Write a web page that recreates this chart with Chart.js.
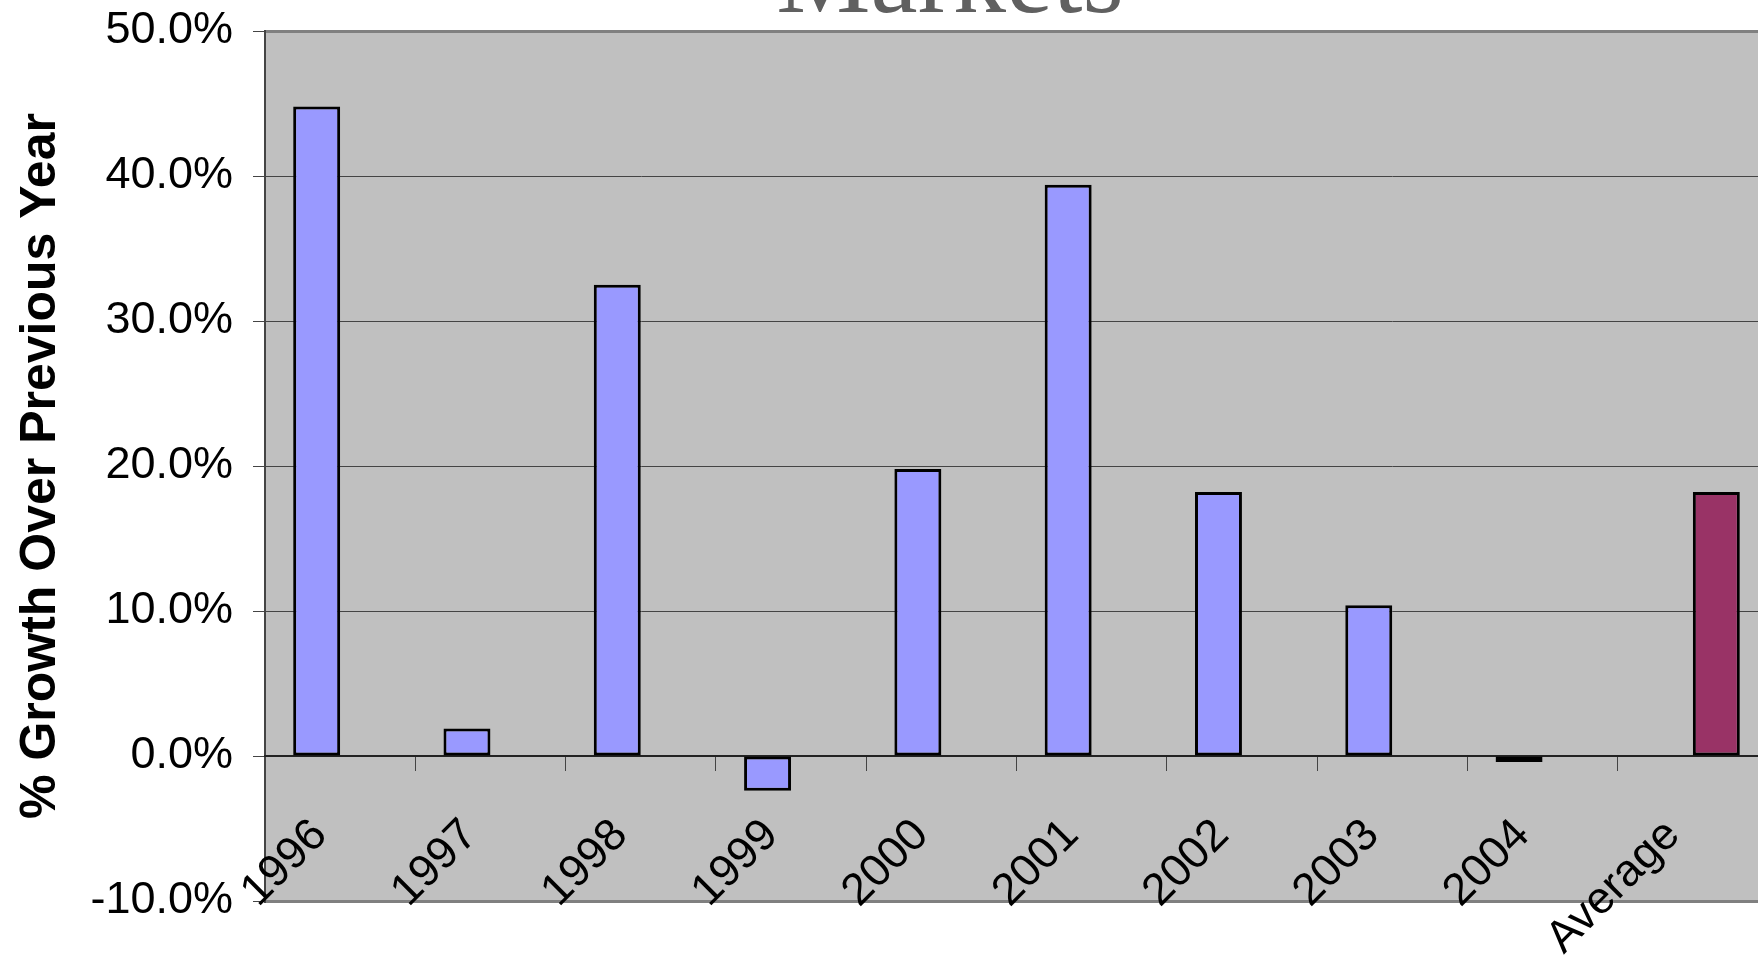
<!DOCTYPE html>
<html>
<head>
<meta charset="utf-8">
<script src="https://cdn.jsdelivr.net/npm/chart.js@4.4.1/dist/chart.umd.min.js"></script>
<style>
  html, body { margin: 0; padding: 0; background: #fff; overflow: hidden; width: 1758px; height: 959px; }
  #wrap { position: absolute; left: 0; top: -100px; width: 1900px; height: 1059px; }
</style>
</head>
<body>
<div id="wrap"><canvas id="growthChart"></canvas></div>
<script>
// categories + values (% growth over previous year)
const categories = ['1996', '1997', '1998', '1999', '2000', '2001', '2002', '2003', '2004', 'Average'];
const yearGrowth = [44.8, 1.9, 32.5, -2.4, 19.8, 39.4, 18.2, 10.4, -0.2, null];
const averageGrowth = [null, null, null, null, null, null, null, null, null, 18.2];
const yTicks = [-10, 0, 10, 20, 30, 40, 50];

// gray plot background like the old Excel chart
const plotBg = {
    id: 'plotBg',
    beforeDraw: (chart) => {
        const { ctx, chartArea: { left, top, right, bottom } } = chart;
        ctx.save();
        ctx.fillStyle = '#c0c0c0';
        ctx.fillRect(left, top, right - left, bottom - top);
        ctx.restore();
    }
};

const ctx = document.getElementById('growthChart').getContext('2d');
new Chart(ctx, {
    type: 'bar',
    data: {
        labels: categories,
        datasets: [
            { label: 'Growth', data: yearGrowth, backgroundColor: '#9999ff', borderColor: '#000', borderWidth: 3, borderSkipped: false, minBarLength: 6 },
            { label: 'Average', data: averageGrowth, backgroundColor: '#993366', borderColor: '#000', borderWidth: 3, borderSkipped: false }
        ]
    },
    options: {
        responsive: true,
        maintainAspectRatio: false,
        animation: false,
        categoryPercentage: 0.625,
        barPercentage: 1,
        layout: { padding: { top: 0, right: 0, bottom: 58, left: 0 } },
        plugins: {
            legend: { display: false },
            tooltip: { enabled: false },
            title: {
                display: true,
                text: 'Markets',
                color: '#606060',
                font: { family: '"Liberation Serif", "Times New Roman", serif', size: 106, weight: 'normal', lineHeight: 1.0 },
                padding: { top: 31, bottom: -6 }
            }
        },
        scales: {
            y: {
                min: -10, max: 50,
                afterFit: (scale) => { scale.width = 265; },
                afterBuildTicks: (scale) => { scale.ticks = yTicks.map(v => ({ value: v })); },
                ticks: {
                    color: '#000',
                    padding: 20,
                    font: { family: '"Liberation Sans", Arial, sans-serif', size: 45 },
                    callback: (v) => v.toFixed(1) + '%'
                },
                grid: {
                    color: (c) => (c.tick && (c.tick.value === 50 || c.tick.value === -10)) ? '#808080' : '#444',
                    lineWidth: (c) => (c.tick && (c.tick.value === 50 || c.tick.value === -10)) ? 3 : 1,
                    tickLength: 12,
                    tickColor: '#444',
                    tickWidth: 1
                },
                border: { display: true, color: '#444', width: 2 },
                title: {
                    display: true,
                    text: '% Growth Over Previous Year',
                    color: '#000',
                    font: { family: '"Liberation Sans", Arial, sans-serif', size: 50, weight: 'bold' },
                    padding: { top: 11, bottom: 0 }
                }
            },
            // empty strip on the right (plot runs off the page there), keeps the title centred like the original
            yRight: {
                position: 'right',
                display: true,
                ticks: { display: false },
                grid: { display: false },
                border: { display: false },
                afterFit: (scale) => { scale.width = 132; }
            },
            x: {
                position: { y: 0 },
                grid: { drawOnChartArea: false, drawTicks: true, tickLength: 14, tickColor: '#444', tickWidth: 1, offset: true },
                border: { display: true, color: '#222', width: 2 },
                ticks: {
                    color: '#000',
                    autoSkip: false,
                    minRotation: 45,
                    maxRotation: 45,
                    padding: 39,
                    labelOffset: -20,
                    font: { family: '"Liberation Sans", Arial, sans-serif', size: 45 }
                }
            }
        }
    },
    plugins: [plotBg]
});
</script>
</body>
</html>
